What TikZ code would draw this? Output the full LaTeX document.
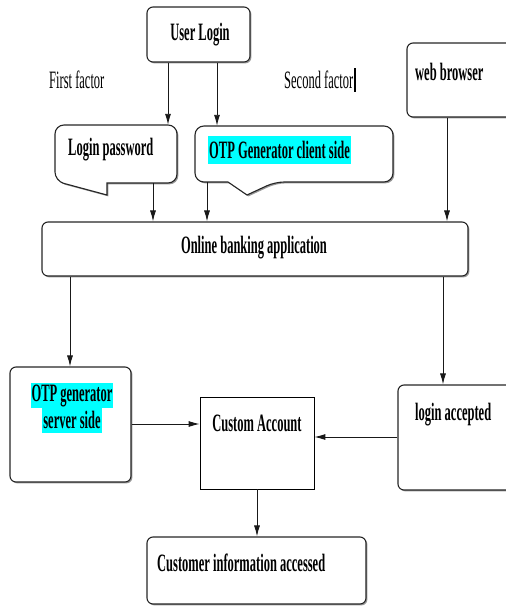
\documentclass[tikz,border=0pt]{standalone}
\usepackage{fontspec}
\setmainfont{Liberation Serif}[FakeStretch=0.5]
\usetikzlibrary{arrows.meta,shadows}
\definecolor{hlcyan}{RGB}{0,255,255}
\begin{document}
\begin{tikzpicture}[x=1pt,y=-1pt,
  shad/.style={drop shadow={shadow xshift=1.4pt,shadow yshift=-1.4pt,fill=black!45,opacity=0.9}},
  rbox/.style={draw=black!85,line width=1.1pt,rounded corners=6pt,fill=white,shad,inner sep=0pt},
  sbox/.style={draw=black,line width=0.8pt,fill=white,inner sep=0pt},
  ghost/.style={inner sep=0pt,draw=none},
  txt/.style={inner sep=0pt,font=\fontsize{25}{28}\selectfont\bfseries},
  ltxt/.style={inner sep=0pt,font=\fontsize{25}{28}\selectfont},
  hl/.style={txt,fill=hlcyan,inner xsep=1pt,minimum height=28pt},
  clout/.style={draw=black!85,line width=1.1pt,fill=white,shad},
  arr/.style={draw=black!90,line width=0.9pt,-{Latex[length=11pt,width=6pt]}}
]
\useasboundingbox (0,0) rectangle (506,606);
\clip (0,0) rectangle (506,606);

% boxes
\node[rbox,minimum width=103pt,minimum height=55pt] (ul) at (198.5,34.5) {};
\node[txt] (ult) at (200,35) {User Login};

\node[ltxt,anchor=west] (ff) at (49,80) {First factor};
\node[ltxt,anchor=west] (sf) at (284,80) {Second factor};
\coordinate (cur1) at ([xshift=1.5pt,yshift=12pt]sf.east);
\coordinate (cur2) at ([xshift=1.5pt,yshift=-12pt]sf.east);
\draw[line width=1.3pt] (cur1) -- (cur2);

\node[rbox,minimum width=113pt,minimum height=74pt] (wb) at (463.5,80) {};
\node[txt,anchor=west] (wbt) at (415,72) {web browser};

% callouts
\draw[clout] (107,183) [rounded corners=9pt] -- (177,183) -- (177,125) -- (55,125) -- (55,181) [sharp corners] -- (107,195) -- cycle;
\node[ghost,minimum width=122pt,minimum height=58pt] (lp) at (116,154) {};
\node[txt,anchor=west] (lpt) at (68,150) {Login password};

\draw[clout] (228,182) [rounded corners=9pt] -- (195,182) -- (195,126) -- (393,126) -- (393,182) -- (275,182) [sharp corners] -- (247,195) -- cycle;
\node[ghost,minimum width=198pt,minimum height=56pt] (oc) at (294,154) {};
\node[hl] (oct) at (279.5,149.5) {OTP Generator client side};

\node[rbox,minimum width=426pt,minimum height=54pt] (ob) at (255,249) {};
\node[txt] (obt) at (254,248) {Online banking application};

\node[rbox,minimum width=121pt,minimum height=115pt] (srv) at (70.5,424.5) {};
\node[hl,minimum height=25pt] (srv1) at (72,395.5) {OTP generator};
\node[hl,minimum height=25pt] (srv2) at (72,420) {server side};

\node[sbox,minimum width=114pt,minimum height=92pt] (ca) at (257,443) {};
\node[txt] (cat) at (257,423) {Custom Account};

\node[rbox,minimum width=122pt,minimum height=105pt] (la) at (459,437.5) {};
\node[txt,anchor=west] (lat) at (415,415) {login accepted};

\node[rbox,minimum width=219pt,minimum height=67pt] (ci) at (256.5,570.5) {};
\node[txt,anchor=west] (cit) at (157,563) {Customer information accessed};

% helper coordinates
\coordinate (k1) at (168,0);
\coordinate (k2) at (217,0);
\coordinate (k3) at (153,0);
\coordinate (k4) at (207,0);
\coordinate (k5) at (447,0);
\coordinate (k6) at (70,0);
\coordinate (k7) at (443,0);
\coordinate (k8) at (0,424);
\coordinate (k9) at (0,437);
\coordinate (k10) at (257,0);

% connectors
\draw[arr] (ul.south -| k1) -- (lp.north -| k1);
\draw[arr] (ul.south -| k2) -- (oc.north -| k2);
\draw[arr] (lp.south -| k3) -- (ob.north -| k3);
\draw[arr] (oc.south -| k4) -- (ob.north -| k4);
\draw[arr] (wb.south -| k5) -- (ob.north -| k5);
\draw[arr] (ob.south -| k6) -- (srv.north -| k6);
\draw[arr] (ob.south -| k7) -- (la.north -| k7);
\draw[arr] (srv.east |- k8) -- (ca.west |- k8);
\draw[arr] (la.west |- k9) -- (ca.east |- k9);
\draw[arr] (ca.south -| k10) -- (ci.north -| k10);
\end{tikzpicture}
\end{document}
